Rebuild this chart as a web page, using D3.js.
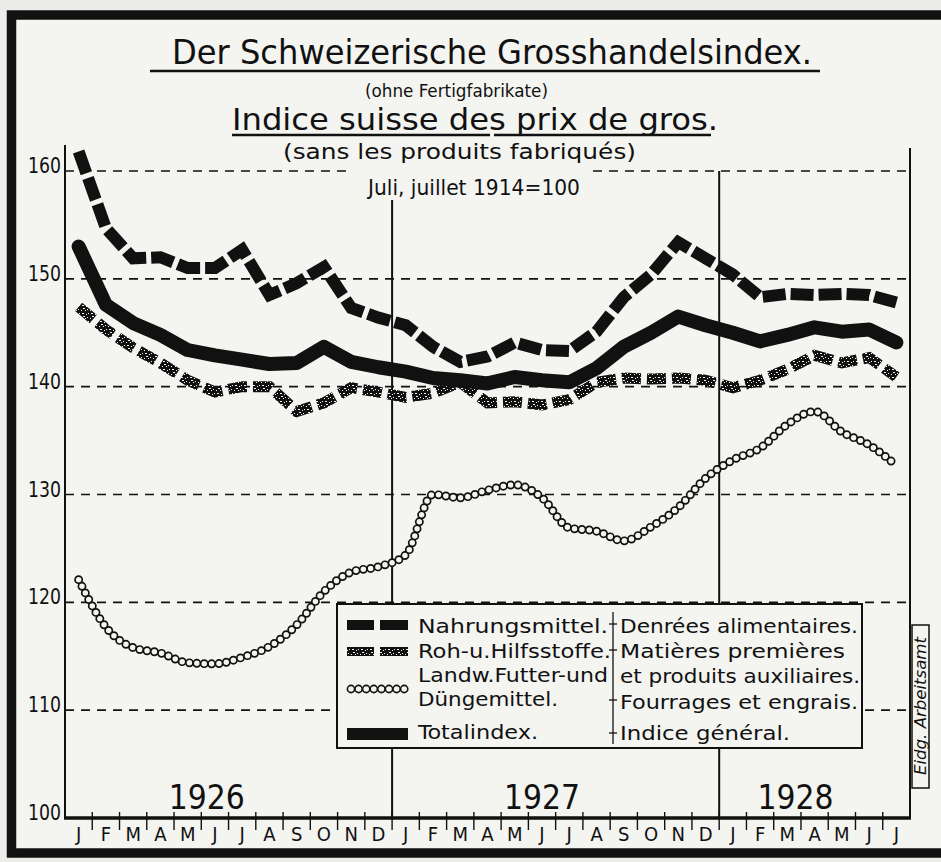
<!DOCTYPE html>
<html>
<head>
<meta charset="utf-8">
<script src="https://cdn.jsdelivr.net/npm/d3@7"></script>
<style>
  html, body { margin: 0; padding: 0; background: #ececea; }
  svg { display: block; }
  text { font-family: "DejaVu Sans Condensed", "DejaVu Sans", sans-serif; fill: #111; }
</style>
</head>
<body>
<div id="chart"></div>
<script>
// -------------------------------
// Data (Jan 1926 .. Jul 1928)
// -------------------------------
const months = ["J","F","M","A","M","J","J","A","S","O","N","D",
                "J","F","M","A","M","J","J","A","S","O","N","D",
                "J","F","M","A","M","J","J"];
const years = ["1926", "1927", "1928"];
const yTicks = [100, 110, 120, 130, 140, 150, 160];

const nahrungsmittel = [161.8, 154.7, 151.9, 152.0, 151.0, 151.0, 152.7, 148.5, 149.6, 151.1, 147.3, 146.4,
                        145.7, 143.7, 142.3, 142.8, 144.1, 143.4, 143.3, 145.1, 148.3, 150.4, 153.4, 151.9,
                        150.4, 148.3, 148.6, 148.5, 148.6, 148.5, 147.8];
const rohstoffe      = [147.4, 145.3, 143.6, 142.2, 140.6, 139.5, 140.0, 140.0, 137.7, 138.5, 139.9, 139.5,
                        139.0, 139.4, 140.4, 138.5, 138.6, 138.3, 138.8, 140.4, 140.8, 140.7, 140.8, 140.6,
                        139.9, 140.6, 141.6, 142.9, 142.2, 142.7, 140.9];
const futter         = [122.1, 117.7, 115.8, 115.3, 114.4, 114.3, 114.9, 115.9, 117.9, 121.0, 122.8, 123.3,
                        124.4, 130.0, 129.7, 130.4, 130.9, 129.7, 126.9, 126.6, 125.7, 127.0, 128.8, 131.5,
                        133.2, 134.3, 136.5, 137.7, 135.8, 134.6, 132.7];
const totalindex     = [153.0, 147.6, 145.9, 144.8, 143.4, 142.9, 142.5, 142.1, 142.2, 143.7, 142.3, 141.8,
                        141.4, 140.8, 140.6, 140.3, 140.9, 140.6, 140.4, 141.7, 143.7, 145.0, 146.5, 145.7,
                        145.0, 144.2, 144.8, 145.5, 145.1, 145.3, 144.1];

const legendDe = ["Nahrungsmittel.", "Roh-u.Hilfsstoffe.", "Landw.Futter-und", "Düngemittel.", "Totalindex."];
const legendFr = ["Denrées alimentaires.", "Matières premières", "et produits auxiliaires.",
                  "Fourrages et engrais.", "Indice général."];

// -------------------------------
// Setup
// -------------------------------
const W = 941, H = 862;
const paper = "#f4f4f1";
const ink = "#111";

const svg = d3.select("#chart").append("svg")
    .attr("width", W)
    .attr("height", H);

const defs = svg.append("defs");
// speckled fill for the raw-material line
const speck = defs.append("pattern")
    .attr("id", "speck")
    .attr("patternUnits", "userSpaceOnUse")
    .attr("width", 9).attr("height", 8);
speck.append("rect").attr("width", 9).attr("height", 8).attr("fill", ink);
[[1,1,2,1],[5,2,1,1],[7,1,1,1],[2,4,2,1],[6,5,1,1],[4,6,1,1],[0,6,1,1]].forEach(r => {
  speck.append("rect").attr("x", r[0]).attr("y", r[1]).attr("width", r[2]).attr("height", r[3])
      .attr("fill", paper);
});

svg.append("rect").attr("width", W).attr("height", H).attr("fill", "#ececea");
svg.append("rect")
    .attr("x", 11.5).attr("y", 15)
    .attr("width", W + 20).attr("height", 838)
    .attr("fill", paper)
    .attr("stroke", ink)
    .attr("stroke-width", 9.5);

const x = d3.scaleLinear().domain([0, months.length]).range([65, 910]);
const y = d3.scaleLinear().domain([100, 160]).range([818, 171]);
const mx = i => x(i + 0.5);

// -------------------------------
// Titles
// -------------------------------
function label(txt, x0, base, size, len) {
  const t = svg.append("text")
      .attr("x", x0).attr("y", base)
      .attr("font-size", size)
      .text(txt);
  if (len) t.attr("textLength", len).attr("lengthAdjust", "spacingAndGlyphs");
  return t;
}
label("Der Schweizerische Grosshandelsindex.", 172, 64, 34, 640);
label("(ohne Fertigfabrikate)", 365, 97, 18, 183);
label("Indice suisse des prix de gros.", 232, 130, 30, 486);
label("(sans les produits fabriqués)", 283, 159, 22, 353);
label("Juli, juillet 1914=100", 368, 195, 21, 212);

[[150, 820, 71], [232, 490, 135], [494, 711, 135]].forEach(u => {
  svg.append("line")
      .attr("x1", u[0]).attr("x2", u[1]).attr("y1", u[2]).attr("y2", u[2])
      .attr("stroke", ink).attr("stroke-width", 2.5);
});

// -------------------------------
// Grid and axes
// -------------------------------
const grid = svg.append("g")
    .attr("stroke", ink)
    .attr("stroke-width", 1.6)
    .attr("stroke-dasharray", "9,7");
yTicks.filter(v => v > 100).forEach(v => {
  const segs = v === 160 ? [[x(0), 352], [593, x(months.length)]] : [[x(0), x(months.length)]];
  segs.forEach(s => {
    grid.append("line")
        .attr("x1", s[0]).attr("x2", s[1])
        .attr("y1", y(v)).attr("y2", y(v));
  });
});

svg.selectAll(".ylab")
  .data(yTicks)
  .enter().append("text")
    .attr("class", "ylab")
    .attr("x", 61)
    .attr("y", d => y(d) + 2)
    .attr("text-anchor", "end")
    .attr("font-size", 21)
    .attr("textLength", 33)
    .attr("lengthAdjust", "spacingAndGlyphs")
    .text(d => d);

// frame lines of the plot
const frame = svg.append("g").attr("stroke", ink);
frame.append("line").attr("x1", x(0)).attr("x2", x(0)).attr("y1", 145).attr("y2", y(100)).attr("stroke-width", 2);
frame.append("line").attr("x1", x(months.length)).attr("x2", x(months.length)).attr("y1", 148).attr("y2", y(100)).attr("stroke-width", 2);
frame.append("line").attr("x1", x(12)).attr("x2", x(12)).attr("y1", 200).attr("y2", y(100)).attr("stroke-width", 2);
frame.append("line").attr("x1", x(24)).attr("x2", x(24)).attr("y1", y(160)).attr("y2", y(100)).attr("stroke-width", 2);
frame.append("line").attr("x1", x(0) - 1).attr("x2", x(months.length) + 1).attr("y1", y(100)).attr("y2", y(100)).attr("stroke-width", 3.5);

// month ticks and labels
svg.selectAll(".mtick")
  .data(d3.range(1, months.length))
  .enter().append("line")
    .attr("x1", d => x(d)).attr("x2", d => x(d))
    .attr("y1", y(100) - 6).attr("y2", y(100) + 12)
    .attr("stroke", ink).attr("stroke-width", 1.4);

svg.selectAll(".mlab")
  .data(months)
  .enter().append("text")
    .attr("x", (d, i) => mx(i))
    .attr("y", 841)
    .attr("text-anchor", "middle")
    .attr("font-size", 20)
    .text(d => d);

const yearAt = [5.2, 17.5, 26.8];
svg.selectAll(".year")
  .data(years)
  .enter().append("text")
    .attr("x", (d, i) => x(yearAt[i]))
    .attr("y", 809)
    .attr("text-anchor", "middle")
    .attr("font-size", 34)
    .attr("textLength", 76)
    .attr("lengthAdjust", "spacingAndGlyphs")
    .text(d => d);

// -------------------------------
// Series
// -------------------------------
const line = d3.line().x((d, i) => mx(i)).y(d => y(d));

// fodder & fertiliser: chain of small circles along a smooth path
const smooth = d3.line().x((d, i) => mx(i)).y(d => y(d)).curve(d3.curveMonotoneX);
const guide = svg.append("path")
    .attr("d", smooth(futter))
    .attr("fill", "none")
    .attr("stroke", "none");
const len = guide.node().getTotalLength();
const beads = d3.range(0, len, 7.4).map(l => guide.node().getPointAtLength(l));
svg.append("g").selectAll("circle")
  .data(beads)
  .enter().append("circle")
    .attr("cx", d => d.x).attr("cy", d => d.y)
    .attr("r", 3.6)
    .attr("fill", paper)
    .attr("stroke", ink)
    .attr("stroke-width", 1.7);

svg.append("path")
    .attr("d", line(rohstoffe))
    .attr("fill", "none")
    .attr("stroke", "url(#speck)")
    .attr("stroke-width", 11)
    .attr("stroke-dasharray", "19,6");

svg.append("path")
    .attr("d", line(totalindex))
    .attr("fill", "none")
    .attr("stroke", ink)
    .attr("stroke-width", 14)
    .attr("stroke-linejoin", "round")
    .attr("stroke-linecap", "round");

svg.append("path")
    .attr("d", line(nahrungsmittel))
    .attr("fill", "none")
    .attr("stroke", ink)
    .attr("stroke-width", 12)
    .attr("stroke-dasharray", "23,5");

// -------------------------------
// Legend
// -------------------------------
const lg = svg.append("g");
lg.append("rect")
    .attr("x", 337).attr("y", 604)
    .attr("width", 525).attr("height", 144)
    .attr("fill", paper)
    .attr("stroke", ink).attr("stroke-width", 2);
lg.append("line").attr("x1", 613).attr("x2", 613).attr("y1", 612).attr("y2", 744)
    .attr("stroke", ink).attr("stroke-width", 1.3);
[624, 650, 700, 733].forEach(t => {
  lg.append("line").attr("x1", 609).attr("x2", 617).attr("y1", t).attr("y2", t)
      .attr("stroke", ink).attr("stroke-width", 1.3);
});

[[347, 374], [380, 408]].forEach(s => {
  lg.append("rect").attr("x", s[0]).attr("y", 620).attr("width", s[1] - s[0]).attr("height", 10).attr("fill", ink);
  lg.append("rect").attr("x", s[0]).attr("y", 647).attr("width", s[1] - s[0]).attr("height", 9).attr("fill", "url(#speck)");
});
lg.selectAll(".lbead")
  .data(d3.range(8))
  .enter().append("circle")
    .attr("cx", d => 351 + d * 7.6).attr("cy", 689)
    .attr("r", 3.6)
    .attr("fill", paper).attr("stroke", ink).attr("stroke-width", 1.6);
lg.append("rect").attr("x", 347).attr("y", 728).attr("width", 61).attr("height", 12).attr("fill", ink);

const deRows = [[633, 190], [658, 193], [682, 190], [706, 140], [739, 120]];
legendDe.forEach((t, i) => label(t, 418, deRows[i][0], 20, deRows[i][1]));
const frRows = [[633, 238], [658, 225], [683, 240], [709, 238], [740, 170]];
legendFr.forEach((t, i) => label(t, 620, frRows[i][0], 20, frRows[i][1]));

// credit box
svg.append("rect")
    .attr("x", 912).attr("y", 625).attr("width", 17).attr("height", 163)
    .attr("fill", "none").attr("stroke", ink).attr("stroke-width", 1.5);
svg.append("text")
    .attr("transform", "translate(926,706) rotate(-90)")
    .attr("text-anchor", "middle")
    .attr("font-size", 15)
    .attr("font-style", "italic")
    .attr("textLength", 138)
    .attr("lengthAdjust", "spacingAndGlyphs")
    .text("Eidg. Arbeitsamt");
</script>
</body>
</html>
